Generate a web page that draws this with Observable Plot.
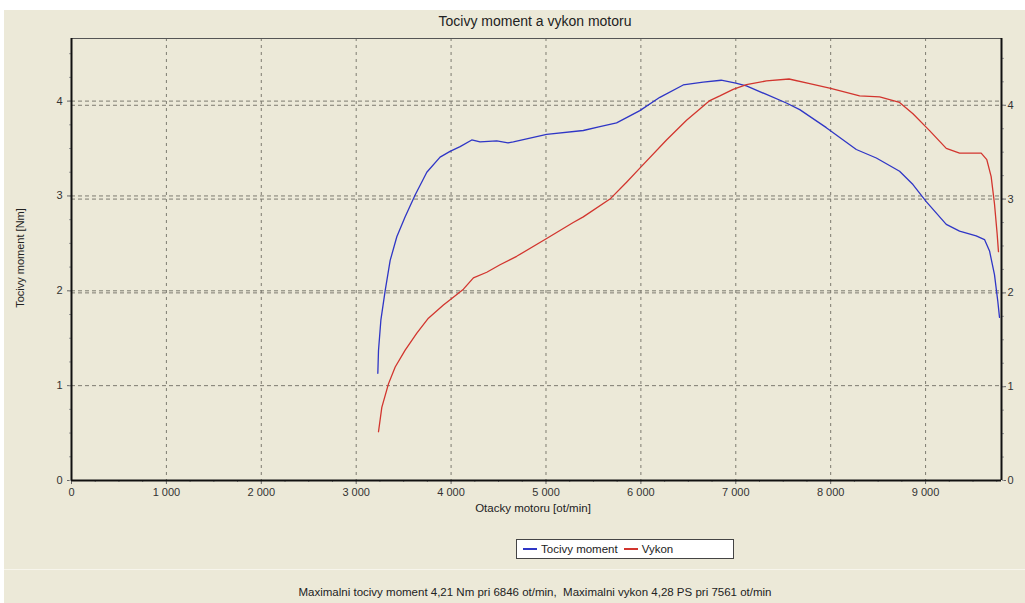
<!DOCTYPE html>
<html>
<head>
<meta charset="utf-8">
<script src="https://cdn.jsdelivr.net/npm/d3@7"></script>
<script src="https://cdn.jsdelivr.net/npm/@observablehq/plot@0.6"></script>
<style>
  body { margin: 0; background: #ffffff; font-family: "Liberation Sans", Arial, sans-serif; }
  #wrap { position: relative; width: 1025px; height: 603px; overflow: hidden; }
  #bg { position: absolute; left: 4px; top: 10px; right: 0; bottom: 0; background: #ECE9D8; }
  #sep { position: absolute; left: 4px; right: 0; top: 569px; height: 1px; background: #f7f5ec; }
  #title { position: absolute; top: 13px; left: 0; width: 1070px; text-align: center; font-size: 14px; color: #222; }
  #chart { position: absolute; left: 0; top: 30px; }
  #ylab { position: absolute; left: 20px; top: 258px; transform: translate(-50%, -50%) rotate(-90deg); font-size: 11px; color: #222; white-space: nowrap; }
  #xlab { position: absolute; left: 0; width: 1066px; top: 502px; text-align: center; font-size: 11.5px; color: #222; }
  #legend { position: absolute; left: 516px; top: 539px; width: 216px; height: 18px; background: #fff; border: 1px solid #444; font-size: 11.5px; color: #222; display: flex; align-items: center; box-sizing: content-box; }
  .sw { display: inline-block; width: 14px; height: 1.5px; margin: 0 4px 0 6px; }
  #caption { position: absolute; top: 586px; left: 0; width: 1070px; text-align: center; font-size: 11.5px; color: #222; white-space: pre; }
</style>
</head>
<body>
<div id="wrap">
  <div id="bg"></div>
  <div id="sep"></div>
  <div id="title"></div>
  <div id="chart"></div>
  <div id="ylab"></div>
  <div id="xlab"></div>
  <div id="legend"></div>
  <div id="caption"></div>
</div>
<script>
// ---- texts ----
const titleText = "Tocivy moment a vykon motoru";
const yLabelText = "Tocivy moment [Nm]";
const xLabelText = "Otacky motoru [ot/min]";
const seriesNames = ["Tocivy moment", "Vykon"];
const seriesColors = ["#2F36C6", "#D2352E"];
const captionText = "Maximalni tocivy moment 4,21 Nm pri 6846 ot/min,  Maximalni vykon 4,28 PS pri 7561 ot/min";

// ---- ticks ----
const xTicks = [0, 1000, 2000, 3000, 4000, 5000, 6000, 7000, 8000, 9000];
const xMinorTicks = d3.range(0, 9800, 250);
const nmTicks = [0, 1, 2, 3, 4];
const nmMinorTicks = d3.range(0, 4.66, 0.25);
const psTicks = [0, 1, 2, 3, 4];
const psMinorTicks = d3.range(0, 4.7, 0.25);
const xMax = 9800;
const yMax = 4.66;      // left axis (Nm) top
const psToNm = 0.989;   // right axis (PS) is slightly compressed vs. left axis

// ---- series: torque [Nm] ----
const torqueRpm = [3228,3235,3260,3305,3358,3428,3516,3621,3744,3884,3989,4095,4218,4305,4481,4600,4656,5007,5393,5568,5744,5989,6200,6446,6656,6846,7000,7112,7323,7533,7674,7954,8270,8481,8726,8867,9007,9218,9358,9533,9621,9674,9726,9761,9779];
const torqueNm  = [1.13,1.37,1.69,2.00,2.32,2.57,2.78,3.01,3.25,3.41,3.47,3.52,3.59,3.57,3.58,3.56,3.57,3.65,3.69,3.73,3.77,3.90,4.04,4.17,4.20,4.22,4.19,4.16,4.07,3.98,3.91,3.72,3.49,3.40,3.26,3.12,2.94,2.70,2.63,2.58,2.54,2.42,2.17,1.89,1.72];

// ---- series: power [PS] ----
const powerRpm = [3235,3270,3340,3411,3516,3639,3761,3919,4007,4130,4235,4376,4516,4691,5007,5287,5393,5674,5849,5989,6270,6481,6621,6726,6832,6972,7112,7323,7561,7779,8000,8305,8516,8726,8867,9042,9218,9358,9586,9645,9691,9726,9754,9768];
const powerPS  = [0.52,0.78,1.03,1.21,1.39,1.57,1.73,1.87,1.94,2.04,2.16,2.22,2.30,2.39,2.58,2.75,2.81,3.00,3.18,3.33,3.63,3.84,3.96,4.05,4.10,4.17,4.22,4.26,4.28,4.23,4.18,4.10,4.09,4.03,3.91,3.73,3.54,3.49,3.49,3.42,3.24,2.95,2.63,2.44];

const torque = torqueRpm.map((r, i) => ({rpm: r, v: torqueNm[i]}));
const power = powerRpm.map((r, i) => ({rpm: r, v: powerPS[i] * psToNm}));

const fmtX = d => d3.format(",")(d).replace(/,/g, " ");
const gridColor = "#7d7b70";

const chart = Plot.plot({
  width: 1025,
  height: 500,
  marginLeft: 71,
  marginRight: 24,
  marginTop: 8,
  marginBottom: 50,
  style: { background: "transparent", fontFamily: "Liberation Sans, Arial, sans-serif", fontSize: "11px", color: "#333", overflow: "visible" },
  x: { domain: [0, xMax] },
  y: { domain: [0, yMax] },
  marks: [
    Plot.ruleX(xTicks.slice(1), { stroke: gridColor, strokeDasharray: "3,4" }),
    Plot.ruleY(nmTicks.slice(1), { stroke: gridColor, strokeDasharray: "4,3" }),
    Plot.ruleY(psTicks.slice(2).map(v => v * psToNm), { stroke: gridColor, strokeDasharray: "4,3" }),
    Plot.axisX({ ticks: xTicks, tickSize: 4, tickPadding: 4, tickFormat: fmtX, label: null, stroke: "#666", fill: "#333" }),
    Plot.axisX({ ticks: xMinorTicks, tickSize: 2, tickFormat: () => "", label: null, stroke: "#888" }),
    Plot.axisY({ ticks: nmTicks, anchor: "left", tickSize: 4, tickPadding: 5, tickFormat: d => String(d), label: null, stroke: "#666", fill: "#333" }),
    Plot.axisY({ ticks: nmMinorTicks, anchor: "left", tickSize: 2, tickFormat: () => "", label: null, stroke: "#999" }),
    Plot.axisY({ ticks: psTicks.map(v => v * psToNm), anchor: "right", tickSize: 4, tickPadding: 2, tickFormat: d => String(Math.round(d / psToNm)), label: null, stroke: "#666", fill: "#333" }),
    Plot.axisY({ ticks: psMinorTicks.map(v => v * psToNm).filter(v => v <= yMax), anchor: "right", tickSize: 2, tickFormat: () => "", label: null, stroke: "#999" }),
    Plot.line(torque, { x: "rpm", y: "v", stroke: seriesColors[0], strokeWidth: 1.3 }),
    Plot.line(power, { x: "rpm", y: "v", stroke: seriesColors[1], strokeWidth: 1.3 }),
    Plot.ruleY([yMax], { stroke: "#555", strokeWidth: 1 }),
    Plot.ruleX([0], { stroke: "#111", strokeWidth: 2 }),
    Plot.ruleX([xMax], { stroke: "#111", strokeWidth: 2 }),
    Plot.ruleY([0], { stroke: "#111", strokeWidth: 2 })
  ]
});
document.getElementById("chart").appendChild(chart);

document.getElementById("title").textContent = titleText;
document.getElementById("ylab").textContent = yLabelText;
document.getElementById("xlab").textContent = xLabelText;
document.getElementById("caption").textContent = captionText;

const legend = document.getElementById("legend");
seriesNames.forEach((name, i) => {
  const sw = document.createElement("span");
  sw.className = "sw";
  sw.style.background = seriesColors[i];
  legend.appendChild(sw);
  const t = document.createElement("span");
  t.textContent = name;
  legend.appendChild(t);
});
</script>
</body>
</html>
